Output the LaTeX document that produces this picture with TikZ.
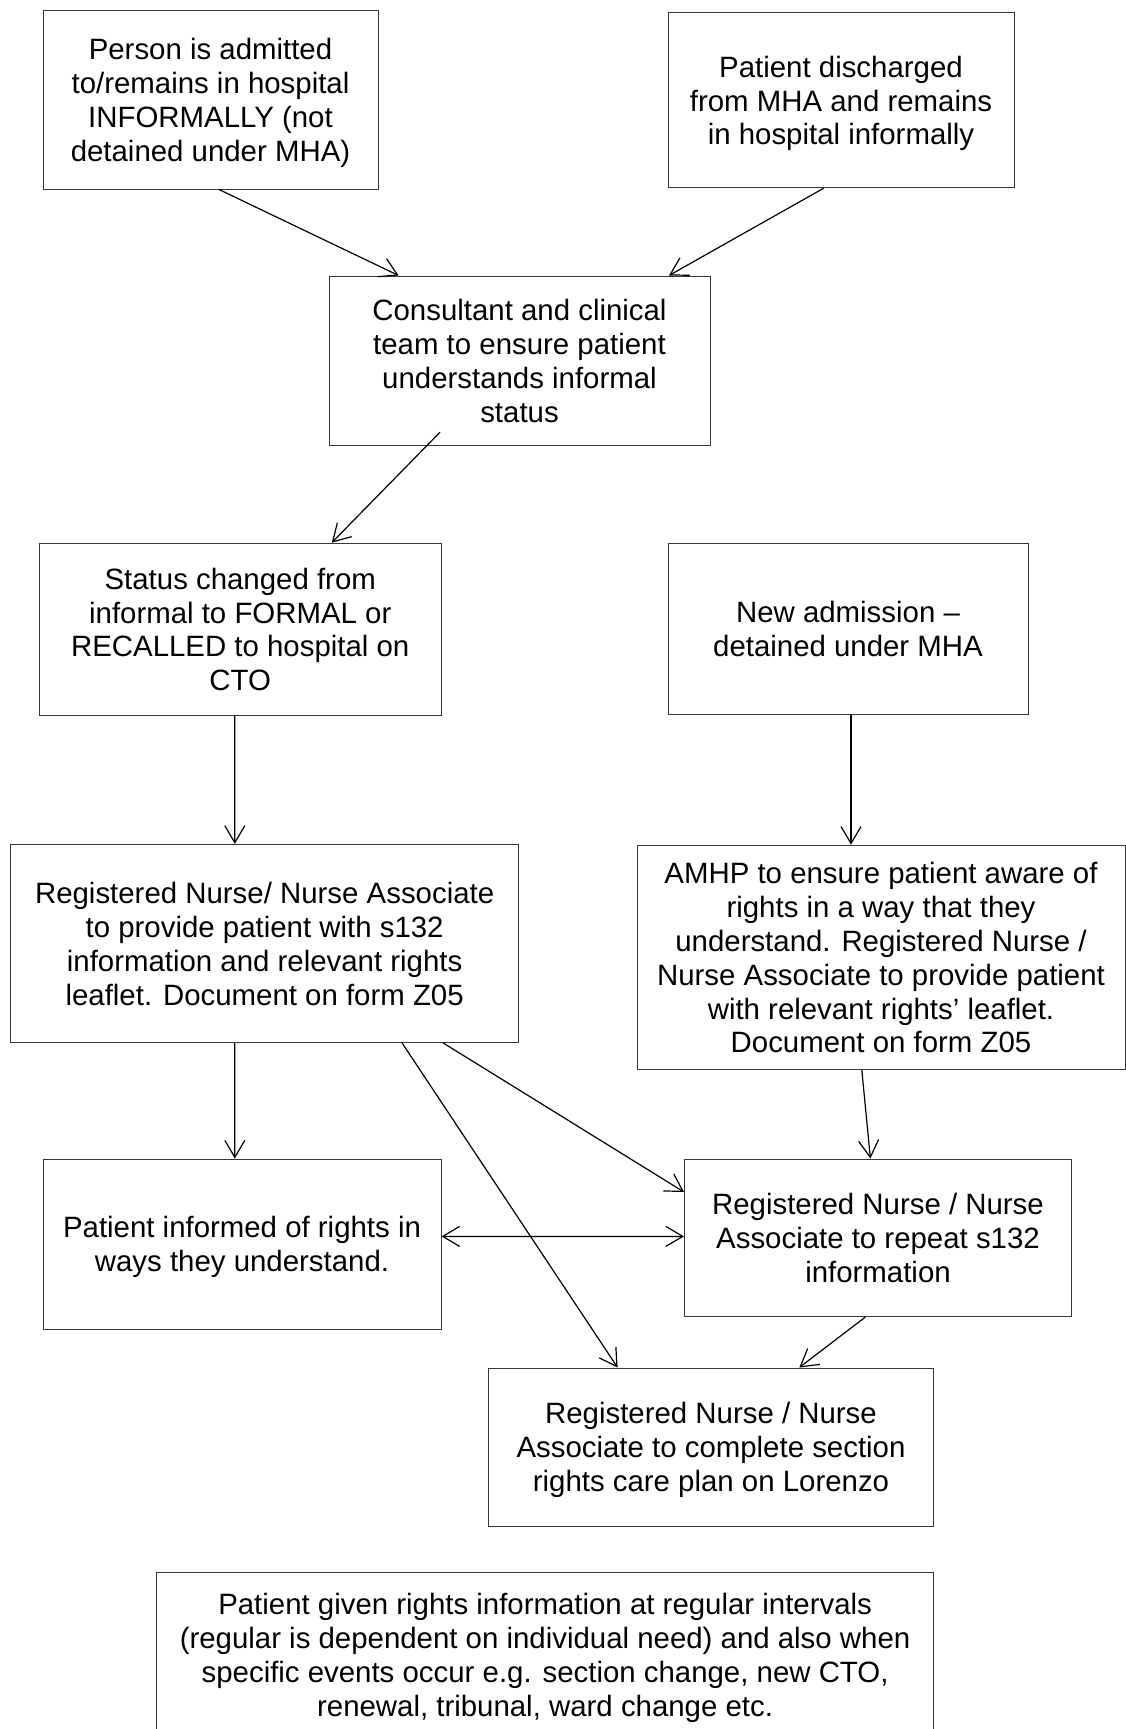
\documentclass[tikz,border=0pt]{standalone}
\usepackage{fontspec}
\setmainfont{Liberation Sans}
\usetikzlibrary{arrows.meta,calc}
\newcommand\mytopstrut{\rule{0pt}{28.6pt}}
\newcommand\mybotstrut{\rule[-7pt]{0pt}{7pt}}
\begin{document}
\begin{tikzpicture}[x=1pt,y=-1pt,
  box/.style={draw=black!78, line width=1pt, inner sep=0pt, align=center,
    font=\fontsize{29.4}{33.9}\selectfont},
  conn/.style={line width=1.2pt, -{Straight Barb[length=17pt,width=20pt]}},
  dconn/.style={line width=1.2pt, {Straight Barb[length=17pt,width=20pt]}-{Straight Barb[length=17pt,width=20pt]}}
]
\useasboundingbox (0,0) rectangle (1126,1729);
\clip (0,0) rectangle (1126,1729);

\node[box, minimum width=335pt, minimum height=179pt] (b1) at (210.5,99.5)
  {\mytopstrut Person is admitted\\to/remains in hospital\\INFORMALLY (not\\detained under MHA)\mybotstrut};
\node[box, minimum width=346pt, minimum height=175pt] (b2) at (841,100.2)
  {\mytopstrut Patient discharged\\from MHA and remains\\in hospital informally\mybotstrut};
\node[box, minimum width=381pt, minimum height=169.7pt] (b3) at (519.5,360.85)
  {\mytopstrut Consultant and clinical\\team to ensure patient\\understands informal\\status\mybotstrut};
\node[box, minimum width=401.5pt, minimum height=172pt] (b4) at (240.25,629.15)
  {\mytopstrut Status changed from\\informal to FORMAL or\\RECALLED to hospital on\\CTO\mybotstrut};
\node[box, minimum width=360pt, minimum height=171.7pt] (b5) at (848,628.85)
  {\mytopstrut New admission –\\detained under MHA\mybotstrut};
\node[box, minimum width=507.7pt, minimum height=198pt] (b6) at (264.65,943.35)
  {\mytopstrut Registered Nurse/ Nurse Associate\\to provide patient with s132\\information and relevant rights\\leaflet. Document on form Z05\mybotstrut};
\node[box, minimum width=488pt, minimum height=224.3pt] (b7) at (881,957.35)
  {\mytopstrut AMHP to ensure patient aware of\\rights in a way that they\\understand. Registered Nurse /\\Nurse Associate to provide patient\\with relevant rights’ leaflet.\\Document on form Z05\mybotstrut};
\node[box, minimum width=398pt, minimum height=170pt] (b8) at (242,1244)
  {\mytopstrut Patient informed of rights in\\ways they understand.\mybotstrut};
\node[box, minimum width=387pt, minimum height=157.6pt] (b9) at (878,1237.8)
  {\mytopstrut Registered Nurse / Nurse\\Associate to repeat s132\\information\mybotstrut};
\node[box, minimum width=445.3pt, minimum height=158pt] (b10) at (711,1447)
  {\mytopstrut Registered Nurse / Nurse\\Associate to complete section\\rights care plan on Lorenzo\mybotstrut};
\node[box, minimum width=777pt, minimum height=166pt] (b11) at (545.1,1655)
  {\mytopstrut Patient given rights information at regular intervals\\(regular is dependent on individual need) and also when\\specific events occur e.g. section change, new CTO,\\renewal, tribunal, ward change etc.\mybotstrut};

\draw[conn] ($(b1.south)+(8.5,0)$) -- ($(b3.north)+(-120.9,0)$);
\draw[conn] ($(b2.south)+(-17.3,0)$) -- ($(b3.north)+(149.5,0)$);
\draw[conn] ($(b3.south)+(-79.5,-14)$) -- ($(b4.north)+(91.55,0)$);
\draw[conn] ($(b4.south)+(-5.45,0)$) -- ($(b6.north)+(-29.85,0)$);
\draw[conn] ($(b5.south)+(3,0)$) -- ($(b7.north)+(-30,0)$);
\draw[conn] ($(b6.south)+(-29.85,0)$) -- ($(b8.north)+(-7.2,0)$);
\draw[conn] ($(b6.south)+(137.35,0)$) -- ($(b10.north)+(-93.4,0)$);
\draw[conn] ($(b6.south)+(178.35,0)$) -- ($(b9.west)+(0,-45.8)$);
\draw[conn] ($(b7.south)+(-19.2,0)$) -- ($(b9.north)+(-7.6,0)$);
\draw[conn] ($(b9.south)+(-12.7,0)$) -- ($(b10.north)+(88.3,0)$);
\draw[dconn] ($(b8.east)+(0,-7.6)$) -- ($(b9.west)+(0,-1.4)$);
\end{tikzpicture}
\end{document}
